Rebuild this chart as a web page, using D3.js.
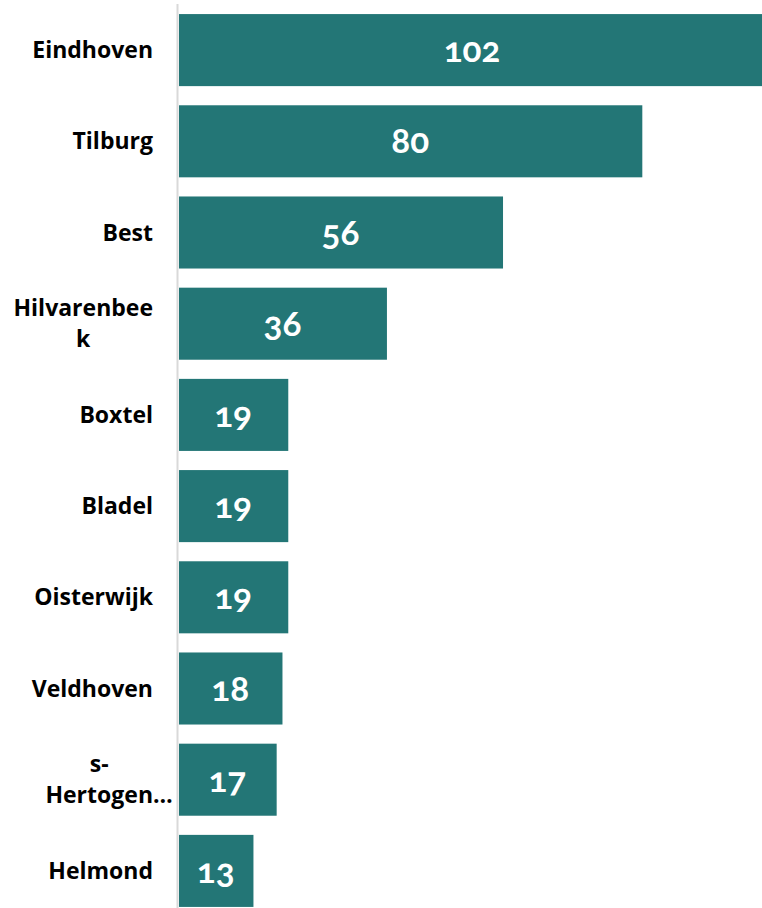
<!DOCTYPE html>
<html><head><meta charset="utf-8">
<script src="https://cdn.jsdelivr.net/npm/d3@7"></script>
<style>body{margin:0;background:#fff}svg{display:block}.val{font-variant-numeric:oldstyle-nums;font-feature-settings:"onum" 1}</style>
</head><body>
<svg id="c" width="762" height="908"></svg>
<script>
const categories = ["Eindhoven","Tilburg","Best","Hilvarenbeek","Boxtel","Bladel","Oisterwijk","Veldhoven","s-Hertogen…","Helmond"];
const labelLines = [["Eindhoven"],["Tilburg"],["Best"],["Hilvarenbee","k"],["Boxtel"],["Bladel"],["Oisterwijk"],["Veldhoven"],["s-","Hertogen…"],["Helmond"]];
const values = [102,80,56,36,19,19,19,18,17,13];

const svg = d3.select("#c");
const x = d3.scaleLinear().domain([0,102]).range([178,770]);
const y = d3.scaleBand().domain(categories).range([4.5,916.5]).paddingInner(0.21).paddingOuter(0.105);
const color = "#237676";

svg.append("line").attr("x1",177.5).attr("x2",177.5).attr("y1",4).attr("y2",908)
  .attr("stroke","#d9d9d9").attr("stroke-width",2);

svg.selectAll("rect.bar").data(values).join("rect").attr("class","bar")
  .attr("x",x(0)+1).attr("y",(d,i)=>y(categories[i]))
  .attr("width",d=>x(d)-x(0)-1).attr("height",y.bandwidth()).attr("fill",color);

svg.selectAll("text.val").data(values).join("text").attr("class","val")
  .attr("x",d=>(x(0)+Math.min(x(d),766))/2).attr("y",(d,i)=>y(categories[i])+y.bandwidth()/2+12)
  .attr("text-anchor","middle").attr("fill","#fff")
  .style("font-family","Lato, 'Open Sans', sans-serif").style("font-weight","700").style("font-size","35px")
  .text(d=>d);

const lab = svg.append("g").style("font-family","'Open Sans', sans-serif").style("font-weight","700").style("font-size","23px").attr("fill","#000");
labelLines.forEach((lines,i)=>{
  const cy = y(categories[i])+y.bandwidth()/2;
  const lh = 31;
  const n = lines.length;
  if(n===1){
    lab.append("text").attr("x",153).attr("y",cy+8).attr("text-anchor","end").text(lines[0]);
  } else {
    const tmp = lab.append("text").text(lines.map(l=>l.replace("…","")).reduce((a,b)=>a.length>=b.length?a:b));
    const w = tmp.node().getComputedTextLength(); tmp.remove();
    const cx = 153 - w/2;
    lines.forEach((l,j)=>{
      const t = lab.append("text").attr("y",cy+8+(j-(n-1)/2)*lh).text(l);
      if(l.endsWith("…")){
        const base = l.replace("…","");
        const tmp2 = lab.append("text").text(base); const bw = tmp2.node().getComputedTextLength(); tmp2.remove();
        t.attr("x",cx-bw/2).attr("text-anchor","start");
      } else t.attr("x",cx).attr("text-anchor","middle");
    });
  }
});
</script>
</body></html>
